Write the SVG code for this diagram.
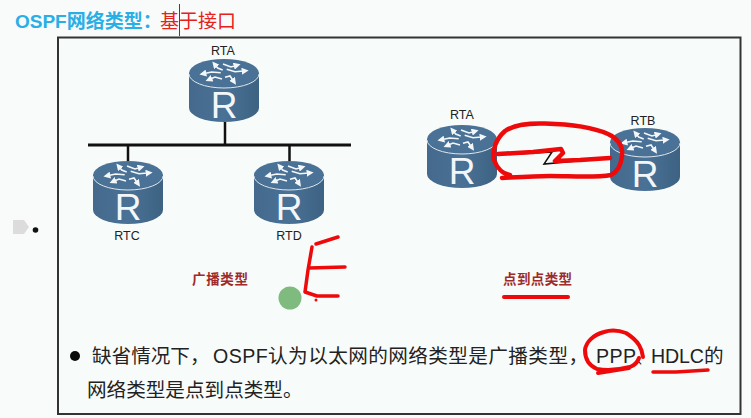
<svg xmlns="http://www.w3.org/2000/svg" width="751" height="418" viewBox="0 0 751 418">
<style>
.lbl{font-family:"Liberation Sans","Noto Sans CJK SC",sans-serif;font-size:12.500px;fill:#222}
.cap{font-family:"Noto Sans CJK SC",sans-serif;font-size:13.500px;font-weight:700;fill:#a02a2a}
.body{font-family:"Liberation Sans","Noto Sans CJK SC",sans-serif;font-size:19.600px;fill:#222}
.ttl{font-family:"Liberation Sans","Noto Sans CJK SC",sans-serif;font-size:19px}
.ink{fill:none;stroke:#ee0a0a;stroke-linecap:round;stroke-linejoin:round}
.wire{stroke:#111;fill:none}
.rr{font-family:"Liberation Sans",sans-serif;font-size:37px;fill:#f2f6f9}
.arw{fill:none;stroke:#f4f7fa;stroke-width:1.600;marker-end:url(#tip)}
</style>
<defs>
<marker id="tip" viewBox="0 0 8 8" refX="5" refY="4" markerWidth="7" markerHeight="7" markerUnits="userSpaceOnUse" orient="auto"><path d="M0 0L8 4L0 8Z" fill="#f4f7fa"/></marker>
<linearGradient id="bodyG" x1="0" y1="0" x2="1" y2="0"><stop offset="0" stop-color="#44698c"/><stop offset="0.5" stop-color="#4a7296"/><stop offset="1" stop-color="#3d6282"/></linearGradient>
<g id="router">
<path d="M0 14V49A35 14 0 0 0 70 49V14Z" fill="url(#bodyG)"/>
<ellipse cx="35" cy="14" rx="35" ry="14" fill="#4a7296"/>
<path d="M0 15A35 14 0 0 0 70 15" fill="none" stroke="#dfe8ef" stroke-width="1"/>
<path class="arw" d="M33.700 11L28.700 9L25 4.500"/>
<path class="arw" d="M31.700 13.700L22.700 13L13 15"/>
<path class="arw" d="M37.700 10.300L46 12.700L57 11.800"/>
<path class="arw" d="M36 18.300L41 17L45.500 23.500"/>
<path class="arw" d="M34 5L42 8L49 6"/>
<path class="arw" d="M33 20L26 18L19 21"/>
<text class="rr" x="35" y="59" text-anchor="middle">R</text>
</g>
</defs>
<rect width="751" height="418" fill="#f8fbf9"/>
<rect id="frame" x="58" y="37.500" width="682.500" height="376.500" fill="#f7fbfa" stroke="#333" stroke-width="2"/>
<g id="title">
<text class="ttl" x="15" y="28" font-weight="700" fill="#2aaee6">OSPF网络类型：</text>
<text class="ttl" x="160" y="28" fill="#e8201c">基于接口</text>
<path d="M179.500 4V36" stroke="#444" stroke-width="1"/>
</g>
<g id="connectors">
<path class="wire" stroke-width="3" d="M88 145H351"/>
<path class="wire" stroke-width="2.500" d="M225 122V145M128 145V161M289.500 145V161"/>
<path class="wire" stroke-width="1.500" d="M497 155L552 152L544 164L610 158"/>
</g>
<g id="node-rta"><text class="lbl" x="223" y="55" text-anchor="middle">RTA</text><use href="#router" x="189" y="59"/></g>
<g id="node-rtc"><use href="#router" x="93" y="161"/><text class="lbl" x="127" y="240" text-anchor="middle">RTC</text></g>
<g id="node-rtd"><use href="#router" x="254" y="161"/><text class="lbl" x="289" y="240" text-anchor="middle">RTD</text></g>
<g id="node-rta2"><text class="lbl" x="462" y="119" text-anchor="middle">RTA</text><use href="#router" x="427" y="125"/></g>
<g id="node-rtb"><text class="lbl" x="643" y="125" text-anchor="middle">RTB</text><use href="#router" x="610" y="128"/></g>
<g id="caps">
<text class="cap" x="192" y="284" textLength="56">广播类型</text>
<text class="cap" x="503" y="284" textLength="69">点到点类型</text>
</g>
<g id="side">
<path d="M13 220H24L29 227L24 234H13Z" fill="#dcdcdc"/>
<circle cx="35.500" cy="230" r="2.800" fill="#111"/>
</g>
<g id="bullets">
<circle cx="75" cy="356" r="5" fill="#0a0a0a"/>
<text class="body" x="92" y="363">缺省情况下，</text>
<text class="body" x="213" y="363" textLength="375">OSPF认为以太网的网络类型是广播类型，</text>
<text class="body" x="596" y="363" textLength="40">PPP</text>
<text class="body" x="637" y="363" style="font-size:13px">、</text>
<text class="body" x="651" y="363" textLength="53">HDLC</text>
<text class="body" x="704" y="363">的</text>
<text class="body" x="87" y="397">网络类型是点到点类型。</text>
</g>
<circle id="pointer" cx="290" cy="298" r="11.500" fill="#7fba7f"/>
<g id="annotations">
<path class="ink" stroke-width="4.500" d="M510 175C503 174 497 168 494 160C492 150 496 139 505 131C515 124 530 123 545 123.500C565 124 590 126 608 134C619 139 623 147 622 156C621 165 617 172 611 175C595 178 570 176 550 176C535 176 520 177 502 178"/>
<path class="ink" stroke-width="4.500" d="M498 154L533 152L561 149L563 153L555 161L580 160L610 158"/>
<path class="ink" stroke-width="4" d="M504 297H568"/>
<path class="ink" stroke-width="4" d="M643 357C642 349 639 341 626 333C618 330 610 330 604 332C593 335 586 342 585 350C585 360 590 366 597 369C608 371 622 369 630 367C635 365 638 361 639 358M598 373L629 368"/>
<path class="ink" stroke-width="3.500" d="M653 372L676 372L708 370"/>
<path class="ink" stroke-width="3.500" d="M316 244L338 237M312 247L308 270L305 292L317 296L338 296M309 268L345 267"/>
<circle cx="316" cy="300" r="1.500" fill="#ee0a0a"/>
</g>
</svg>
